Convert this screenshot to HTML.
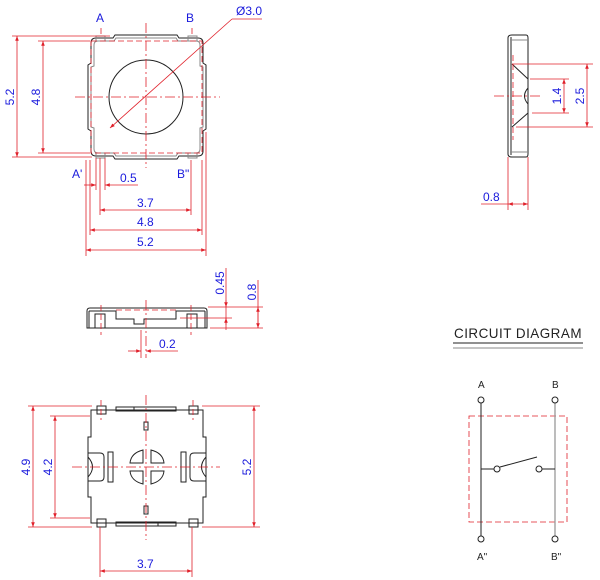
<!DOCTYPE html>
<html><head><meta charset="utf-8"><style>
html,body{margin:0;padding:0;background:#fff}
svg{display:block}
text{font-family:"Liberation Sans",sans-serif;font-size:12px;fill:#1a1adc}
.k{stroke:#222;fill:none;stroke-width:1}
.g{stroke:#888;fill:none;stroke-width:1}
.r{stroke:#e0202a;fill:none;stroke-width:0.8}
.rd{stroke:#e0202a;fill:none;stroke-width:0.8;stroke-dasharray:6 3}
.rc{stroke:#e0202a;fill:none;stroke-width:0.8;stroke-dasharray:10 3 2 3}
</style></head><body>
<svg width="600" height="580" viewBox="0 0 600 580" xmlns="http://www.w3.org/2000/svg">
<defs>
<marker id="a" viewBox="0 0 8 6" refX="8" refY="3" markerWidth="6" markerHeight="5" orient="auto-start-reverse"><path d="M0,0 L8,3 L0,6z" fill="#e0202a"/></marker>
</defs>

<!-- ============ TOP VIEW ============ -->
<path class="k" d="M115,35 L177,35 L179,38 L198,38 Q203,38 203,43 L203,63 L206,65 L206,129 L203,131 L203,151 Q203,156 198,156 L179,156 L177,159 L115,159 L113,156 L96,156 Q91,156 91,151 L91,131 L88,129 L88,65 L91,63 L91,43 Q91,38 96,38 L113,38 Z"/>
<path class="g" d="M116,38 L176,38 L178,41 L196,41 Q200,41 200,45 L200,66 L203,67 L203,127 L200,128 L200,149 Q200,153 196,153 L178,153 L176,156 L116,156 L114,153 L98,153 Q94,153 94,149 L94,128 L91,127 L91,67 L94,66 L94,45 Q94,41 98,41 L114,41 Z"/>
<rect class="g" x="96" y="36" width="9" height="5"/><rect class="g" x="188" y="36" width="9" height="5"/>
<rect class="g" x="96" y="153" width="9" height="5"/><rect class="g" x="188" y="153" width="9" height="5"/>
<rect class="rd" x="91" y="41" width="111" height="112"/>
<circle class="k" cx="146" cy="97" r="37"/>
<line class="rc" x1="146" y1="23" x2="146" y2="168"/>
<line class="rc" x1="75" y1="97" x2="220" y2="97"/>
<line class="r" x1="110" y1="128" x2="232" y2="19" marker-start="url(#a)"/>
<line class="r" x1="232" y1="19" x2="262" y2="19"/>
<text x="236" y="15">Ø3.0</text>
<text x="96" y="22">A</text><text x="186" y="22">B</text>
<text x="72" y="178">A'</text><text x="177" y="178">B"</text>
<line class="rd" x1="101" y1="28" x2="101" y2="36"/><line class="rd" x1="192" y1="28" x2="192" y2="36"/>
<!-- left dims -->
<line class="r" x1="12" y1="36" x2="110" y2="36"/><line class="r" x1="12" y1="157" x2="92" y2="157"/>
<line class="r" x1="17" y1="36" x2="17" y2="157" marker-start="url(#a)" marker-end="url(#a)"/>
<line class="r" x1="38" y1="41" x2="90" y2="41"/><line class="r" x1="38" y1="153" x2="90" y2="153"/>
<line class="r" x1="43" y1="41" x2="43" y2="153" marker-start="url(#a)" marker-end="url(#a)"/>
<text transform="translate(14,97) rotate(-90)" text-anchor="middle">5.2</text>
<text transform="translate(40,97) rotate(-90)" text-anchor="middle">4.8</text>
<!-- bottom dims -->
<line class="r" x1="86" y1="160" x2="86" y2="256"/><line class="r" x1="206" y1="132" x2="206" y2="256"/>
<line class="r" x1="90" y1="160" x2="90" y2="235"/><line class="r" x1="202" y1="160" x2="202" y2="235"/>
<line class="r" x1="96" y1="158" x2="96" y2="190"/><line class="r" x1="105" y1="158" x2="105" y2="190"/>
<line class="r" x1="100" y1="158" x2="100" y2="215"/><line class="r" x1="191" y1="160" x2="191" y2="215"/>
<line class="r" x1="84" y1="185" x2="96" y2="185" marker-end="url(#a)"/>
<line class="r" x1="105" y1="185" x2="138" y2="185" marker-start="url(#a)"/>
<text x="120" y="182">0.5</text>
<line class="r" x1="100" y1="210" x2="191" y2="210" marker-start="url(#a)" marker-end="url(#a)"/>
<text x="137" y="207">3.7</text>
<line class="r" x1="90" y1="230" x2="202" y2="230" marker-start="url(#a)" marker-end="url(#a)"/>
<text x="137" y="226">4.8</text>
<line class="r" x1="86" y1="250" x2="206" y2="250" marker-start="url(#a)" marker-end="url(#a)"/>
<text x="137" y="246">5.2</text>

<!-- ============ SIDE VIEW (right) ============ -->
<path class="k" d="M512,35 L526,35 Q528,35 528,38 L528,154 Q528,157 526,157 L512,157 Q508,157 508,154 L508,38 Q508,35 512,35 Z"/>
<line class="k" x1="511" y1="37" x2="511" y2="155"/>
<line class="g" x1="510" y1="40" x2="528" y2="40"/><line class="g" x1="510" y1="152" x2="528" y2="152"/>
<line class="k" x1="512" y1="64" x2="528" y2="79"/><line class="k" x1="512" y1="127" x2="528" y2="113"/>
<path class="k" d="M528,88 Q521,96 528,104"/>
<line class="rd" x1="513" y1="55" x2="513" y2="140"/>
<line class="rc" x1="494" y1="96" x2="540" y2="96"/>
<line class="r" x1="512" y1="64" x2="593" y2="64"/><line class="r" x1="516" y1="127" x2="593" y2="127"/>
<line class="r" x1="587" y1="64" x2="587" y2="127" marker-start="url(#a)" marker-end="url(#a)"/>
<text transform="translate(584,96) rotate(-90)" text-anchor="middle">2.5</text>
<line class="r" x1="530" y1="79" x2="569" y2="79"/><line class="r" x1="532" y1="113" x2="569" y2="113"/>
<line class="r" x1="564" y1="79" x2="564" y2="113" marker-start="url(#a)" marker-end="url(#a)"/>
<text transform="translate(561,96) rotate(-90)" text-anchor="middle">1.4</text>
<line class="r" x1="508" y1="157" x2="508" y2="210"/><line class="r" x1="528" y1="157" x2="528" y2="210"/>
<line class="r" x1="481" y1="204" x2="508" y2="204"/>
<line class="r" x1="508" y1="204" x2="528" y2="204" marker-start="url(#a)" marker-end="url(#a)"/>
<text x="483" y="201">0.8</text>

<!-- ============ FRONT SIDE VIEW ============ -->
<path class="k" d="M87,328 L87,311 Q87,308 90,308 L204,308 Q207,308 207,311 L207,328 Z"/>
<line class="k" x1="89" y1="311" x2="89" y2="328"/><line class="k" x1="205" y1="311" x2="205" y2="328"/>
<path class="k" d="M89,311 L116,311 L116,319 L134,319 L134,324 L144,324 L144,319 L176,319 L176,311 L205,311"/>
<rect class="k" x="95" y="314" width="10" height="14"/><rect class="k" x="187" y="314" width="10" height="14"/>
<line class="rd" x1="116" y1="310" x2="176" y2="310"/>
<line class="rd" x1="101" y1="305" x2="101" y2="335"/><line class="rd" x1="191" y1="305" x2="191" y2="335"/>
<line class="rc" x1="146" y1="300" x2="146" y2="358"/>
<line class="r" x1="141" y1="330" x2="141" y2="358"/>
<line class="r" x1="128" y1="351" x2="141" y2="351" marker-end="url(#a)"/>
<line class="r" x1="146" y1="351" x2="178" y2="351" marker-start="url(#a)"/>
<text x="159" y="348">0.2</text>
<line class="r" x1="208" y1="307" x2="263" y2="307"/><line class="r" x1="180" y1="318" x2="232" y2="318"/>
<line class="r" x1="210" y1="328" x2="263" y2="328"/>
<line class="r" x1="226" y1="268" x2="226" y2="330"/>
<line class="r" x1="226" y1="300" x2="226" y2="307" marker-end="url(#a)"/>
<line class="r" x1="226" y1="325" x2="226" y2="318" marker-end="url(#a)"/>
<text transform="translate(224,283) rotate(-90)" text-anchor="middle">0.45</text>
<line class="r" x1="258" y1="280" x2="258" y2="328"/>
<line class="r" x1="258" y1="307" x2="258" y2="328" marker-start="url(#a)" marker-end="url(#a)"/>
<text transform="translate(256,292) rotate(-90)" text-anchor="middle">0.8</text>

<!-- ============ BOTTOM VIEW ============ -->
<path class="k" d="M91,410 L203,410 L203,437 L206,437 L206,497 L203,497 L203,523 L91,523 L91,497 L88,497 L88,437 L91,437 Z"/>
<rect class="k" x="116" y="407" width="60" height="4"/><rect class="k" x="116" y="522" width="60" height="4"/>
<line class="k" x1="134" y1="407" x2="134" y2="411"/><line class="k" x1="158" y1="522" x2="158" y2="526"/>
<rect class="k" x="97" y="406" width="9" height="8"/><rect class="k" x="189" y="406" width="9" height="8"/>
<rect class="k" x="97" y="519" width="9" height="8"/><rect class="k" x="189" y="519" width="9" height="8"/>
<path class="k" d="M88,453 L100,453 Q104,453 104,457 L104,477 Q104,481 100,481 L88,481"/>
<path class="k" d="M88,457 Q97,467 88,477"/>
<path class="k" d="M206,453 L194,453 Q190,453 190,457 L190,477 Q190,481 194,481 L206,481"/>
<path class="k" d="M206,457 Q197,467 206,477"/>
<rect class="k" x="108" y="452" width="5" height="30"/><rect class="k" x="181" y="452" width="5" height="30"/>
<rect class="k" x="144" y="422" width="4" height="8"/><rect class="k" x="144" y="506" width="4" height="8"/>
<path class="k" d="M143,450 L143,463 L130,463 Q131,453 143,450Z"/>
<path class="k" d="M151,450 L151,463 L164,463 Q163,453 151,450Z"/>
<path class="k" d="M143,484 L143,471 L130,471 Q131,481 143,484Z"/>
<path class="k" d="M151,484 L151,471 L164,471 Q163,481 151,484Z"/>
<line class="rc" x1="146" y1="395" x2="146" y2="540"/>
<line class="rc" x1="72" y1="467" x2="220" y2="467"/>
<line class="rd" x1="101" y1="400" x2="101" y2="420"/><line class="rd" x1="193" y1="400" x2="193" y2="420"/>
<line class="r" x1="28" y1="406" x2="92" y2="406"/><line class="r" x1="28" y1="527" x2="92" y2="527"/>
<line class="r" x1="33" y1="406" x2="33" y2="527" marker-start="url(#a)" marker-end="url(#a)"/>
<text transform="translate(30,467) rotate(-90)" text-anchor="middle">4.9</text>
<line class="r" x1="50" y1="416" x2="90" y2="416"/><line class="r" x1="50" y1="518" x2="90" y2="518"/>
<line class="r" x1="55" y1="416" x2="55" y2="518" marker-start="url(#a)" marker-end="url(#a)"/>
<text transform="translate(52,467) rotate(-90)" text-anchor="middle">4.2</text>
<line class="r" x1="202" y1="406" x2="260" y2="406"/><line class="r" x1="202" y1="527" x2="260" y2="527"/>
<line class="r" x1="254" y1="406" x2="254" y2="527" marker-start="url(#a)" marker-end="url(#a)"/>
<text transform="translate(251,467) rotate(-90)" text-anchor="middle">5.2</text>
<line class="r" x1="100" y1="527" x2="100" y2="577"/><line class="r" x1="192" y1="527" x2="192" y2="577"/>
<line class="r" x1="100" y1="571" x2="192" y2="571" marker-start="url(#a)" marker-end="url(#a)"/>
<text x="137" y="568">3.7</text>

<!-- ============ CIRCUIT ============ -->
<text x="454" y="338" style="fill:#222;font-size:14px;letter-spacing:0.5px" textLength="128" lengthAdjust="spacingAndGlyphs">CIRCUIT DIAGRAM</text>
<line x1="453" y1="343" x2="583" y2="343" stroke="#222" stroke-width="1"/>
<line x1="453" y1="348" x2="583" y2="348" stroke="#888" stroke-width="1"/>
<text x="478" y="388" style="fill:#222;font-size:10px">A</text>
<text x="552" y="388" style="fill:#222;font-size:10px">B</text>
<text x="477" y="560" style="fill:#222;font-size:10px">A"</text>
<text x="551" y="560" style="fill:#222;font-size:10px">B"</text>
<rect class="rd" x="469" y="416" width="98" height="106"/>
<line x1="481" y1="403" x2="481" y2="536" stroke="#222"/>
<line x1="555" y1="403" x2="555" y2="536" stroke="#999" stroke-width="1.3"/>
<circle cx="481" cy="400" r="3" fill="#fff" stroke="#222"/><circle cx="555" cy="400" r="3" fill="#fff" stroke="#222"/>
<circle cx="481" cy="539" r="3" fill="#fff" stroke="#222"/><circle cx="555" cy="539" r="3" fill="#fff" stroke="#222"/>
<line x1="481" y1="469" x2="494" y2="469" stroke="#222"/>
<circle cx="497" cy="469" r="3" fill="#fff" stroke="#222"/>
<line x1="500" y1="467" x2="537" y2="457" stroke="#222"/>
<circle cx="539" cy="469" r="3" fill="#fff" stroke="#222"/>
<line x1="542" y1="469" x2="555" y2="469" stroke="#222"/>
</svg>
</body></html>
